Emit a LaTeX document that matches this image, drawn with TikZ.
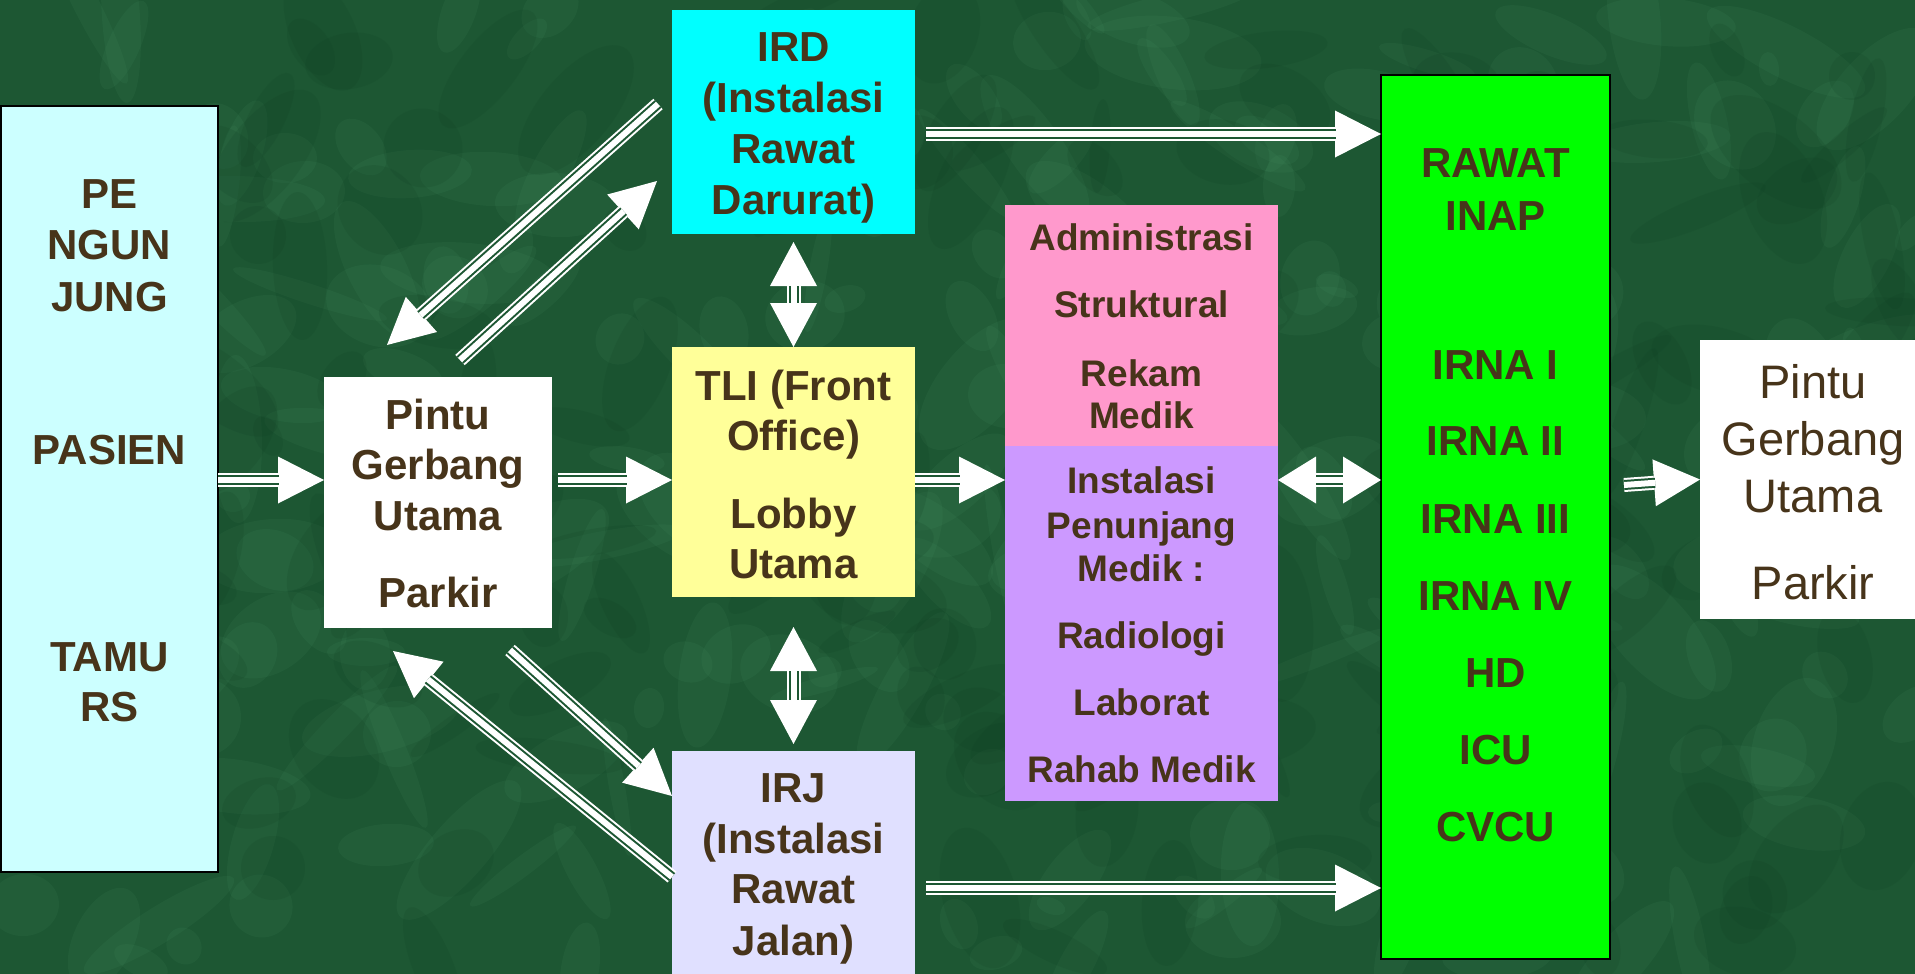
\documentclass[tikz,border=0pt]{standalone}
\usepackage{fontspec}
\setmainfont{Liberation Sans}
\usetikzlibrary{arrows.meta}
\definecolor{bggreen}{HTML}{1D5733}
\definecolor{bglight}{HTML}{4F9A6C}
\definecolor{bgdark}{HTML}{0F3D22}
\definecolor{txtbrown}{HTML}{47341A}
\definecolor{lbcyan}{HTML}{CCFFFF}
\definecolor{irdcyan}{HTML}{00FFFF}
\definecolor{tliyellow}{HTML}{FFFF99}
\definecolor{irjlav}{HTML}{E0E0FF}
\definecolor{admpink}{HTML}{FF99CC}
\definecolor{ipmpurple}{HTML}{CC99FF}
\definecolor{ripgreen}{HTML}{00FF00}
\tikzset{
  box/.style={rectangle, inner sep=0pt, outer sep=0pt},
  lab/.style={text=txtbrown, inner sep=0pt, anchor=base, font=\fontsize{42}{50}\selectfont\bfseries},
  labs/.style={lab, font=\fontsize{37}{44}\selectfont\bfseries},
  labr/.style={lab, font=\fontsize{47}{56}\selectfont},
  arr/.style={draw=white, line width=14pt, -{Triangle[width=47pt,length=46pt,line width=0pt]},
    postaction={draw=bggreen, -, line width=2pt, double=white, double distance=6pt, shorten >=45pt}},
  darr/.style={draw=white, line width=14pt,
    {Triangle[width=47pt,length=#1pt,line width=0pt]}-{Triangle[width=47pt,length=#1pt,line width=0pt]},
    postaction={draw=bggreen, -, line width=2pt, double=white, double distance=6pt, shorten >=#1pt, shorten <=#1pt}},
}
\begin{document}
\begin{tikzpicture}[x=1pt,y=-1pt]
\useasboundingbox (0,0) rectangle (1915,974);
\fill[bggreen] (0,0) rectangle (1915,974);
% mottled background texture
\pgfmathsetseed{4711}
\begin{scope}
\clip (0,0) rectangle (1915,974);
\foreach \k in {1,...,260}{
  \pgfmathsetmacro\rx{random(0,1915)}
  \pgfmathsetmacro\ry{random(0,974)}
  \pgfmathsetmacro\ra{random(15,90)}
  \pgfmathsetmacro\rb{random(8,40)}
  \pgfmathsetmacro\rr{random(0,180)}
  \fill[bglight, opacity=0.10, rotate around={\rr:(\rx,\ry)}] (\rx,\ry) ellipse [x radius=\ra, y radius=\rb];
}
\foreach \k in {1,...,160}{
  \pgfmathsetmacro\rx{random(0,1915)}
  \pgfmathsetmacro\ry{random(0,974)}
  \pgfmathsetmacro\ra{random(20,80)}
  \pgfmathsetmacro\rb{random(10,40)}
  \pgfmathsetmacro\rr{random(0,180)}
  \fill[bgdark, opacity=0.15, rotate around={\rr:(\rx,\ry)}] (\rx,\ry) ellipse [x radius=\ra, y radius=\rb];
}
\end{scope}

% boxes
\node[box, fill=lbcyan, draw=black, line width=2pt, minimum width=217pt, minimum height=766pt] (lb) at (109.5,489) {};
\node[box, fill=white, minimum width=228pt, minimum height=251pt] (pg) at (438,502.5) {};
\node[box, fill=irdcyan, minimum width=243pt, minimum height=224pt] (ird) at (793.5,122) {};
\node[box, fill=tliyellow, minimum width=243pt, minimum height=250pt] (tli) at (793.5,472) {};
\node[box, fill=irjlav, minimum width=243pt, minimum height=239pt] (irj) at (793.5,870.5) {};
\node[box, fill=admpink, minimum width=273pt, minimum height=241pt] (adm) at (1141.5,325.5) {};
\node[box, fill=ipmpurple, minimum width=273pt, minimum height=355pt] (ipm) at (1141.5,623.5) {};
\node[box, fill=ripgreen, draw=black, line width=2pt, minimum width=229pt, minimum height=884pt] (ri) at (1495.5,517) {};
\node[box, fill=white, minimum width=235pt, minimum height=279pt] (pg2) at (1817.5,479.5) {};

% texts
\foreach \t/\y [count=\i] in {{PE}/193,{NGUN}/244,{JUNG}/296,{PASIEN}/449,{TAMU}/656,{RS}/706}
  \node[lab, name=lbt\i] at (109.5,\y+15) {\t};
\foreach \t/\y [count=\i] in {{Pintu}/414,{Gerbang}/464,{Utama}/515,{Parkir}/592}
  \node[lab, name=pgt\i] at (438,\y+15) {\t};
\foreach \t/\y [count=\i] in {{IRD}/47,{(Instalasi}/98,{Rawat}/148,{Darurat)}/199}
  \node[lab, name=irdt\i] at (793.5,\y+15) {\t};
\foreach \t/\y [count=\i] in {{TLI (Front}/385,{Office)}/435,{Lobby}/513,{Utama}/563}
  \node[lab, name=tlit\i] at (793.5,\y+15) {\t};
\foreach \t/\y [count=\i] in {{IRJ}/787,{(Instalasi}/838,{Rawat}/888,{Jalan)}/940}
  \node[lab, name=irjt\i] at (793.5,\y+15) {\t};
\foreach \t/\y [count=\i] in {{Administrasi}/237,{Struktural}/304,{Rekam}/373,{Medik}/415}
  \node[labs, name=admt\i] at (1141.5,\y+13) {\t};
\foreach \t/\y [count=\i] in {{Instalasi}/480,{Penunjang}/525,{Medik :}/568,{Radiologi}/635,{Laborat}/702,{Rahab Medik}/769}
  \node[labs, name=ipmt\i] at (1141.5,\y+13) {\t};
\foreach \t/\y [count=\i] in {{RAWAT}/162,{INAP}/215,{IRNA I}/364,{IRNA II}/440,{IRNA III}/518,{IRNA IV}/595,{HD}/672,{ICU}/749,{CVCU}/826}
  \node[lab, name=rit\i] at (1495.5,\y+15) {\t};
\foreach \t/\y [count=\i] in {{Pintu}/381,{Gerbang}/438,{Utama}/495,{Parkir}/582}
  \node[labr, name=pg2t\i] at (1813,\y+17) {\t};

% connectors
\coordinate (h480) at (0,480);
\coordinate (a2s) at (558,480);
\draw[arr] (lb.east |- h480) -- (pg.west |- h480);
\draw[arr] (a2s) -- (tli.west |- h480);
\draw[arr] (tli.east |- h480) -- (ipm.west |- h480);
\draw[darr=38] (ipm.east |- h480) -- (ri.west |- h480);
\coordinate (a5s) at (1624,485);
\draw[arr] (a5s) -- (pg2.west);
\coordinate (a6s) at (926,134);
\draw[arr] (a6s) -- (ri.west |- a6s);
\coordinate (a7s) at (926,888);
\draw[arr] (a7s) -- (ri.west |- a7s);
\coordinate (a8t) at (793.5,242);
\draw[darr=44] (a8t) -- (tli.north);
\coordinate (a9t) at (793.5,627);
\coordinate (a9b) at (793.5,744);
\draw[darr=44] (a9t) -- (a9b);
\coordinate (d1s) at (460,360);
\coordinate (d1e) at (657,181);
\draw[arr] (d1s) -- (d1e);
\coordinate (d2s) at (658,104);
\coordinate (d2e) at (387,345);
\draw[arr] (d2s) -- (d2e);
\coordinate (d3s) at (510,650);
\coordinate (d3e) at (672,796);
\draw[arr] (d3s) -- (d3e);
\coordinate (d4s) at (672,877);
\coordinate (d4e) at (393,651);
\draw[arr] (d4s) -- (d4e);
\end{tikzpicture}
\end{document}
